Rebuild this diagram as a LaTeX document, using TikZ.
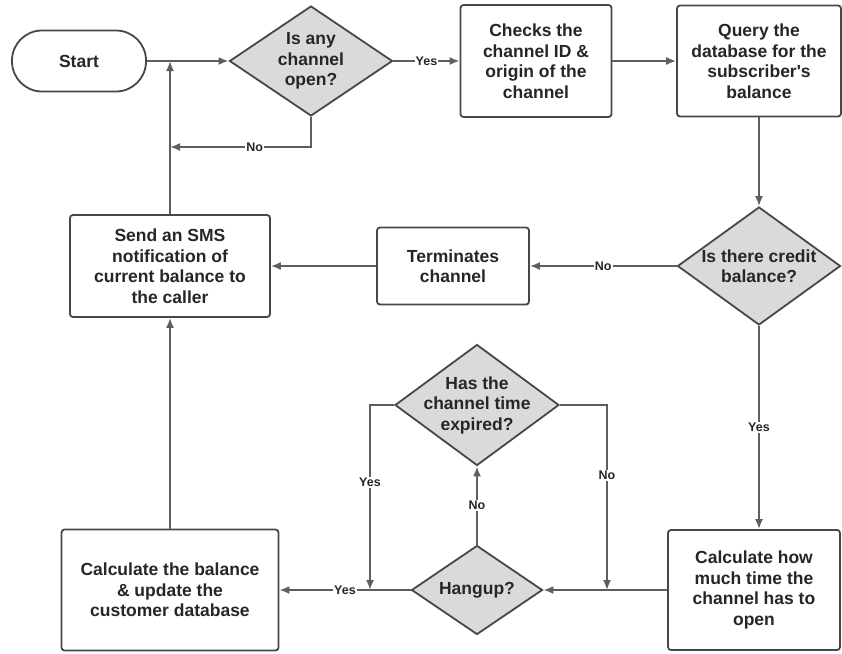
\documentclass[tikz,border=0pt]{standalone}
\usepackage{fontspec}
\setmainfont{Liberation Sans}[Ligatures=TeXOff]
\usetikzlibrary{shapes.geometric,arrows.meta}
\definecolor{linegray}{HTML}{5E5E5E}
\definecolor{boxgray}{HTML}{474747}
\definecolor{diafill}{HTML}{DADADA}
\definecolor{txt}{HTML}{262626}
\begin{document}
\begin{tikzpicture}[x=1pt,y=-1pt,
 every node/.style={font=\fontsize{17.5}{20.5}\selectfont\bfseries, text=txt},
 box/.style={draw=boxgray, line width=1.8pt, rounded corners=3pt, fill=white, align=center, inner sep=0pt},
 dec/.style={diamond, draw=boxgray, line width=1.8pt, fill=diafill, align=center, inner sep=-8pt},
 conn/.style={draw=linegray, line width=1.8pt, -{Latex[length=10pt,width=8pt]}},
 lab/.style={fill=white, font=\fontsize{12.5}{14}\selectfont\bfseries, inner sep=1pt}]
\useasboundingbox (0,0) rectangle (842,653);

\node[box, rounded corners=30pt, minimum width=134pt, minimum height=61pt] (start) at (79,61) {Start};
\node[dec, aspect=1.48, minimum width=163pt, minimum height=110pt] (d1) at (311,61) {Is any\\channel\\open?};
\node[box, minimum width=151pt, minimum height=112pt] (check) at (536,61) {Checks the\\channel ID \&\\origin of the\\channel};
\node[box, minimum width=164pt, minimum height=111pt] (query) at (759,61) {Query the\\database for the\\subscriber's\\balance};
\node[dec, aspect=1.38, minimum width=163pt, minimum height=118pt] (d2) at (759,266) {Is there credit\\balance?};
\node[box, minimum width=152pt, minimum height=77pt] (term) at (453,266) {Terminates\\channel};
\node[box, minimum width=200pt, minimum height=102pt] (sms) at (170,266) {Send an SMS\\notification of\\current balance to\\the caller};
\node[box, minimum width=172pt, minimum height=120pt] (calcT) at (754,590) {Calculate how\\much time the\\channel has to\\open};
\node[dec, aspect=1.47, minimum width=131pt, minimum height=89pt] (hang) at (477,590) {Hangup?};
\node[dec, aspect=1.355, minimum width=164pt, minimum height=121pt] (d3) at (477,405) {Has the\\channel time\\expired?};
\node[box, minimum width=217pt, minimum height=121pt] (calcB) at (170,590) {Calculate the balance\\\& update the\\customer database};

\coordinate (c1) at (311,147);
\coordinate (cR) at (607,590);
\coordinate (cL) at (370,590);

\draw[conn] (start.east) -- (d1.west);
\draw[conn] (d1.east) -- node[lab]{Yes} (check.west);
\draw[conn] (check.east) -- (query.west);
\draw[conn] (query.south) -- (d2.north);
\draw[conn] (d2.west) -- node[lab]{No} (term.east);
\draw[conn] (term.west) -- (sms.east);
\draw[conn] (sms.north) -- (sms.north |- start.east);
\draw[conn] (d1.south) -- (c1) -- node[lab, pos=0.4]{No} (c1 -| sms.north);
\draw[conn] (d2.south) -- node[lab]{Yes} (d2.south |- calcT.north);
\draw[conn] (calcT.west) -- (hang.east);
\draw[conn] (hang.north) -- node[lab]{No} (d3.south);
\draw[conn] (d3.east) -| node[lab, pos=0.69]{No} (cR);
\draw[conn] (d3.west) -| node[lab, pos=0.71]{Yes} (cL);
\draw[conn] (hang.west) -- node[lab]{Yes} (calcB.east);
\draw[conn] (calcB.north) -- (sms.south);
\end{tikzpicture}
\end{document}
